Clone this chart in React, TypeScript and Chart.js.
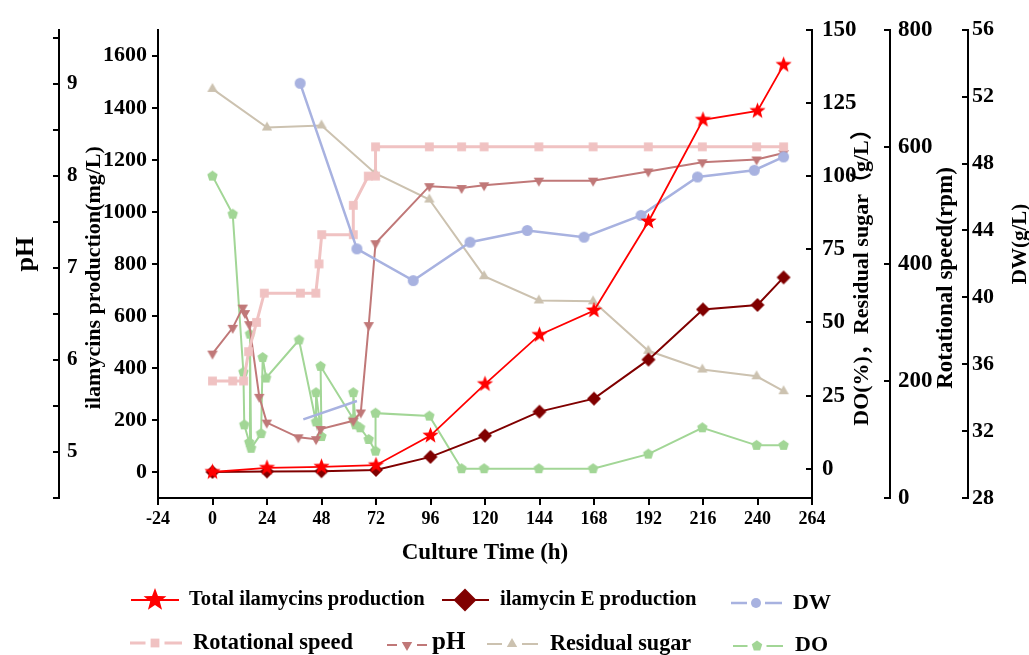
import React, { useEffect, useRef } from 'react';
import { Chart, registerables } from 'chart.js';

Chart.register(...registerables);

const SERIF = "'Liberation Serif', 'Times New Roman', 'Noto Sans CJK SC', serif";

// ---------- tick labels ----------
const xTicks = [-24, 0, 24, 48, 72, 96, 120, 144, 168, 192, 216, 240, 264];
const productionTicks = [0, 200, 400, 600, 800, 1000, 1200, 1400, 1600];
const phTicks = [4.5, 5, 5.5, 6, 6.5, 7, 7.5, 8, 8.5, 9, 9.5];
const doTicks = [0, 25, 50, 75, 100, 125, 150];
const speedTicks = [0, 200, 400, 600, 800];
const dwTicks = [28, 32, 36, 40, 44, 48, 52, 56];

// ---------- series ----------
const timeProduction = [0, 24, 48, 72, 96, 120, 144, 168, 192, 216, 240, 251.5];
const totalProduction = [0, 16, 20, 26, 140, 338, 527, 621, 963, 1354, 1388, 1565];
const eProduction = [0, 2, 3, 8, 58, 140, 232, 282, 432, 625, 642, 748];

const timeDW = [38.6, 63.6, 88.4, 113.4, 138.6, 163.6, 188.7, 213.6, 238.6, 251.5];
const dwValues = [52.8, 42.9, 41.0, 43.3, 44.0, 43.6, 44.9, 47.2, 47.6, 48.4];
const timeDWSegment = [40, 63.6];
const dwSegment = [32.7, 33.8];

const timeSpeed = [0, 8.9, 13.7, 15.9, 19.4, 22.8, 38.7, 45.5, 46.9, 48.1, 62, 62, 68.6, 71.8, 71.8, 95.5, 109.7, 119.6, 143.7, 167.6, 191.9, 215.7, 239.6, 251.5];
const speedValues = [200, 200, 200, 250, 300, 350, 350, 350, 400, 450, 450, 500, 550, 550, 600, 600, 600, 600, 600, 600, 600, 600, 600, 600];

const timePH = [0, 8.9, 13.3, 14.3, 16.2, 20.6, 23.9, 37.8, 45.6, 47.6, 62, 65.3, 68.8, 71.8, 95.5, 109.7, 119.6, 143.7, 167.6, 191.9, 215.7, 239.6, 251.5];
const phValues = [6.07, 6.35, 6.57, 6.51, 6.39, 5.6, 5.32, 5.16, 5.14, 5.25, 5.34, 5.43, 6.38, 7.27, 7.89, 7.87, 7.9, 7.95, 7.95, 8.05, 8.15, 8.18, 8.25];

const timeSugar = [0, 24, 48, 71.6, 95.5, 119.6, 143.7, 167.6, 191.9, 215.7, 239.6, 251.5];
const sugarValues = [129.8, 116.6, 117.3, 101, 92, 65.8, 57.5, 57.2, 40.3, 33.9, 31.6, 26.5];

const timeDO = [0, 8.9, 13.6, 14, 16.2, 16.5, 17, 21.4, 22.1, 23.6, 38.1, 45.6, 45.6, 48, 47.6, 62, 62, 63, 65, 68.8, 71.8, 71.8, 95.5, 109.7, 119.6, 143.7, 167.6, 191.9, 215.7, 239.6, 251.5];
const doValues = [100, 87, 33, 15, 9, 46, 7, 12, 38, 31, 44, 16, 26, 11, 35, 17, 26, 15, 14, 10, 6, 19, 18, 0, 0, 0, 0, 5, 14, 8, 8];

// ---------- colours ----------
const C_TOTAL = '#FF0000';
const C_E = '#800000';
const C_DW = '#A8B2E0';
const C_SPEED = '#F0C2C2';
const C_PH = '#C07878';
const C_SUGAR = '#CCC2B0';
const C_DO = '#A2D696';

type MarkerStyle = 'star' | 'pentagon' | 'circle' | 'rect' | 'triangle' | 'invTriangle' | 'diamond';

function pathMarker(ctx: CanvasRenderingContext2D, style: MarkerStyle, x: number, y: number, r: number) {
  ctx.beginPath();
  if (style === 'star') {
    for (let i = 0; i < 10; i++) {
      const a = -Math.PI / 2 + (i * Math.PI) / 5;
      const rr = i % 2 === 0 ? r : r * 0.42;
      const px = x + Math.cos(a) * rr;
      const py = y + Math.sin(a) * rr;
      if (i === 0) ctx.moveTo(px, py);
      else ctx.lineTo(px, py);
    }
  } else if (style === 'pentagon') {
    for (let i = 0; i < 5; i++) {
      const a = -Math.PI / 2 + (i * 2 * Math.PI) / 5;
      const px = x + Math.cos(a) * r;
      const py = y + Math.sin(a) * r;
      if (i === 0) ctx.moveTo(px, py);
      else ctx.lineTo(px, py);
    }
  } else if (style === 'circle') {
    ctx.arc(x, y, r, 0, Math.PI * 2);
  } else if (style === 'rect') {
    const h = r * 0.8;
    ctx.rect(x - h, y - h, 2 * h, 2 * h);
  } else if (style === 'triangle') {
    ctx.moveTo(x, y - r);
    ctx.lineTo(x + 0.866 * r, y + 0.5 * r);
    ctx.lineTo(x - 0.866 * r, y + 0.5 * r);
  } else if (style === 'invTriangle') {
    ctx.moveTo(x, y + r);
    ctx.lineTo(x + 0.866 * r, y - 0.5 * r);
    ctx.lineTo(x - 0.866 * r, y - 0.5 * r);
  } else if (style === 'diamond') {
    ctx.moveTo(x, y - r);
    ctx.lineTo(x + r, y);
    ctx.lineTo(x, y + r);
    ctx.lineTo(x - r, y);
  }
  ctx.closePath();
}

function markerCanvas(style: MarkerStyle, r: number, color: string): HTMLCanvasElement {
  const c = document.createElement('canvas');
  const s = Math.ceil(2 * r + 2);
  c.width = s;
  c.height = s;
  const ctx = c.getContext('2d')!;
  ctx.fillStyle = color;
  pathMarker(ctx, style, s / 2, s / 2, r);
  ctx.fill();
  return c;
}

const pts = (xs: number[], ys: number[]) => xs.map((x, i) => ({ x, y: ys[i] }));

interface LegendItem {
  label: string; color: string; style: MarkerStyle; r: number;
  x1: number; x2: number; mx: number; cy: number; tx: number; ty: number; size: number; gap: boolean; lw: number;
}

const legendItems: LegendItem[] = [
  { label: 'Total ilamycins production', color: C_TOTAL, style: 'star', r: 12, x1: 131, x2: 179, mx: 155, cy: 600, tx: 189, ty: 600, size: 20.6, gap: false, lw: 2 },
  { label: 'ilamycin E production', color: C_E, style: 'diamond', r: 11.5, x1: 442, x2: 489, mx: 465, cy: 600, tx: 500, ty: 600, size: 20.6, gap: false, lw: 2 },
  { label: 'DW', color: C_DW, style: 'circle', r: 5, x1: 731, x2: 782, mx: 756, cy: 603, tx: 793, ty: 603, size: 22, gap: true, lw: 2.5 },
  { label: 'Rotational speed', color: C_SPEED, style: 'rect', r: 5.5, x1: 130, x2: 182, mx: 155, cy: 643, tx: 193, ty: 643, size: 22.4, gap: true, lw: 3 },
  { label: 'pH', color: C_PH, style: 'invTriangle', r: 6, x1: 387, x2: 427, mx: 407, cy: 645, tx: 432, ty: 643, size: 25, gap: true, lw: 2 },
  { label: 'Residual sugar', color: C_SUGAR, style: 'triangle', r: 6, x1: 487, x2: 538, mx: 512, cy: 644, tx: 550, ty: 644, size: 22.2, gap: true, lw: 2 },
  { label: 'DO', color: C_DO, style: 'pentagon', r: 5.5, x1: 733, x2: 783, mx: 757, cy: 646, tx: 795, ty: 645, size: 22, gap: true, lw: 2 },
];

const rightTitles = [
  { scaleId: 'yDO', text: 'DO(%)，Residual sugar（g/L）', dx: 50, cy: 272, size: 22 },
  { scaleId: 'ySpeed', text: 'Rotational speed(rpm)', dx: 56, cy: 278, size: 23 },
  { scaleId: 'yDW', text: 'DW(g/L)', dx: 53, cy: 244, size: 21 },
];

const decorPlugin = {
  id: 'decor',
  afterDraw(chart: any) {
    const ctx: CanvasRenderingContext2D = chart.ctx;
    ctx.save();
    // right-side axis titles (reading bottom to top)
    for (const t of rightTitles) {
      const sc = chart.scales[t.scaleId];
      ctx.save();
      ctx.translate(sc.left + t.dx, t.cy);
      ctx.rotate(-Math.PI / 2);
      ctx.font = `bold ${t.size}px ${SERIF}`;
      ctx.fillStyle = '#000';
      ctx.textAlign = 'center';
      ctx.textBaseline = 'middle';
      ctx.fillText(t.text, 0, 0);
      ctx.restore();
    }
    // legend
    for (const it of legendItems) {
      ctx.strokeStyle = it.color;
      ctx.lineWidth = it.lw;
      ctx.beginPath();
      if (it.gap) {
        const g = it.r + 4;
        ctx.moveTo(it.x1, it.cy);
        ctx.lineTo(it.mx - g, it.cy);
        ctx.moveTo(it.mx + g, it.cy);
        ctx.lineTo(it.x2, it.cy);
      } else {
        ctx.moveTo(it.x1, it.cy);
        ctx.lineTo(it.x2, it.cy);
      }
      ctx.stroke();
      ctx.fillStyle = it.color;
      pathMarker(ctx, it.style, it.mx, it.cy, it.r);
      ctx.fill();
      ctx.font = `bold ${it.size}px ${SERIF}`;
      ctx.fillStyle = '#000';
      ctx.textAlign = 'left';
      ctx.textBaseline = 'middle';
      ctx.fillText(it.label, it.tx, it.ty);
    }
    ctx.restore();
  },
};

const tickFont = (size: number) => ({ family: SERIF, size, weight: 'bold' as const });

function yAxis(opts: {
  position: 'left' | 'right'; weight: number; min: number; max: number; ticks: number[]; width: number;
  tickLength: number; padding: number; fontSize: number; mirror?: boolean;
  label?: (v: number) => string; title?: { text: string; size: number; pad: number };
}) {
  return {
    type: 'linear' as const,
    position: opts.position,
    weight: opts.weight,
    min: opts.min,
    max: opts.max,
    afterBuildTicks: (s: any) => { s.ticks = opts.ticks.map((v) => ({ value: v })); },
    afterFit: (s: any) => { s.width = opts.width; },
    grid: { display: true, drawOnChartArea: false, drawTicks: true, tickLength: opts.tickLength, color: '#000', lineWidth: 2 },
    border: { display: true, color: '#000', width: 2 },
    ticks: {
      autoSkip: false,
      mirror: !!opts.mirror,
      padding: opts.padding,
      color: '#000',
      font: tickFont(opts.fontSize),
      callback: (v: any) => (opts.label ? opts.label(Number(v)) : String(v)),
    },
    title: opts.title
      ? { display: true, text: opts.title.text, color: '#000', font: tickFont(opts.title.size), padding: { top: opts.title.pad, bottom: 0 } }
      : { display: false },
  };
}

export default function App() {
  const ref = useRef<HTMLCanvasElement>(null);
  useEffect(() => {
    document.body.style.margin = '0';
    const canvas = ref.current!;
    const lineDs = (label: string, data: any[], color: string, style: MarkerStyle, r: number, yAxisID: string, width: number, showPoints = true) => ({
      label,
      data,
      yAxisID,
      xAxisID: 'x',
      borderColor: color,
      backgroundColor: color,
      borderWidth: width,
      tension: 0,
      pointStyle: showPoints ? markerCanvas(style, r, color) : false,
      pointRadius: showPoints ? r : 0,
      pointHoverRadius: showPoints ? r : 0,
    });

    const chart = new Chart(canvas, {
      type: 'line',
      data: {
        datasets: [
          lineDs('Total ilamycins production', pts(timeProduction, totalProduction), C_TOTAL, 'star', 8.5, 'yProd', 1.8),
          lineDs('ilamycin E production', pts(timeProduction, eProduction), C_E, 'diamond', 7, 'yProd', 2),
          lineDs('DW', pts(timeDW, dwValues), C_DW, 'circle', 5.5, 'yDW', 2.5),
          lineDs('DW segment', pts(timeDWSegment, dwSegment), C_DW, 'circle', 0, 'yDW', 2.5, false),
          lineDs('Rotational speed', pts(timeSpeed, speedValues), C_SPEED, 'rect', 5.5, 'ySpeed', 3),
          lineDs('pH', pts(timePH, phValues), C_PH, 'invTriangle', 6, 'yPH', 2),
          lineDs('Residual sugar', pts(timeSugar, sugarValues), C_SUGAR, 'triangle', 6, 'yDO', 2),
          lineDs('DO', pts(timeDO, doValues), C_DO, 'pentagon', 5.5, 'yDO', 2),
        ] as any,
      },
      options: {
        responsive: false,
        animation: false,
        devicePixelRatio: 1,
        layout: { padding: { top: 23, bottom: 82, left: 0, right: 0 } },
        plugins: { legend: { display: false }, tooltip: { enabled: false } },
        scales: {
          x: {
            type: 'linear',
            position: 'bottom',
            min: -24,
            max: 264,
            afterBuildTicks: (s: any) => { s.ticks = xTicks.map((v) => ({ value: v })); },
            afterFit: (s: any) => { s.height = 75; },
            grid: { display: true, drawOnChartArea: false, drawTicks: true, tickLength: 7, color: '#000', lineWidth: 2 },
            border: { display: true, color: '#000', width: 2 },
            ticks: { autoSkip: false, maxRotation: 0, padding: 4, color: '#000', font: tickFont(18), callback: (v: any) => String(v) },
            title: { display: true, text: 'Culture Time (h)', color: '#000', font: tickFont(23), padding: { top: 0, bottom: 6 } },
          },
          yProd: yAxis({ position: 'left', weight: 0, min: -100, max: 1700, ticks: productionTicks, width: 99, tickLength: 6, padding: 5, fontSize: 22,
            title: { text: 'ilamycins production(mg/L)     ', size: 22, pad: 22 } }),
          yPH: yAxis({ position: 'left', weight: 1, min: 4.5, max: 9.59, ticks: phTicks, width: 59, tickLength: 6, padding: 8, fontSize: 21, mirror: true,
            label: (v) => (Number.isInteger(v) ? String(v) : ''), title: { text: '   pH', size: 26, pad: 11 } }),
          yDO: yAxis({ position: 'right', weight: 0, min: -10, max: 150, ticks: doTicks, width: 78, tickLength: -6, padding: 16, fontSize: 23 }),
          ySpeed: yAxis({ position: 'right', weight: 1, min: 0, max: 800, ticks: speedTicks, width: 78, tickLength: -6, padding: 14, fontSize: 23 }),
          yDW: yAxis({ position: 'right', weight: 2, min: 28, max: 56, ticks: dwTicks, width: 61, tickLength: -6, padding: 10, fontSize: 22 }),
        } as any,
      },
      plugins: [decorPlugin],
    });
    return () => chart.destroy();
  }, []);
  return <canvas ref={ref} width={1029} height={655} style={{ display: 'block' }} />;
}
